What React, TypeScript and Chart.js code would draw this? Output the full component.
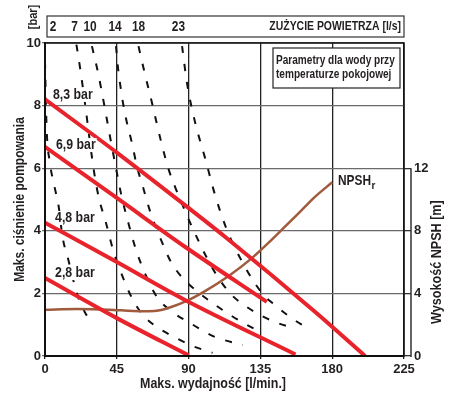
import React, { useEffect, useRef } from 'react';
import { Chart, registerables } from 'chart.js';

Chart.register(...registerables);

const FONT = "'Liberation Sans Narrow', 'Arial Narrow', 'Liberation Sans', Arial, sans-serif";
const INK = '#231f20';

// Axes
const xTicks = [0, 45, 90, 135, 180, 225];
const yTicks = [0, 2, 4, 6, 8, 10];
const npshTicks = [0, 4, 8, 12];

// Air consumption scale (top strip)
const airLabels = ['2', '7', '10', '14', '18', '23'];
const airLabelX = [5.1, 18.5, 28.2, 43.9, 58.6, 83.6];

// Pressure lines [bar] vs flow [l/min]
const p83X = [0, 45, 87.7, 112.8, 169, 200.6];
const p83Y = [8.2, 6.5, 4.82, 3.81, 1.42, 0];
const p69X = [0, 45, 87.7, 139];
const p69Y = [6.68, 5.05, 3.49, 1.73];
const p48X = [0, 45, 87.7, 157];
const p48Y = [4.26, 3.0, 1.79, 0.05];
const p28X = [0, 45, 90];
const p28Y = [2.49, 1.21, 0.02];
const pressLabels = ['8,3 bar', '6,9 bar', '4,8 bar', '2,8 bar'];
const pressLabelX = [5.0, 6.9, 6.3, 6.3];
const pressLabelY = [8.34, 6.74, 4.41, 2.65];

// Air consumption curves [l/s]
const air2X = [0, 1, 3, 6, 8.5, 11, 14.5, 20, 25, 29.5];
const air2Y = [9.4, 7.3, 6.2, 5.4, 4.8, 3.8, 3.1, 2.0, 1.4, 1.05];
const air7X = [19.7, 22, 25, 28, 31, 34, 38, 42.6, 47, 54.5, 61.4, 70, 82, 91, 105];
const air7Y = [9.95, 9.2, 8.1, 6.9, 5.8, 5.0, 4.3, 3.4, 2.75, 1.85, 1.31, 0.93, 0.58, 0.35, 0.1];
const air10X = [29.4, 32.6, 35, 39, 41.5, 44.5, 48, 52, 57, 63, 70, 80, 91, 106, 124];
const air10Y = [9.9, 9.2, 8.6, 7.5, 6.8, 6.0, 5.1, 4.3, 3.4, 2.6, 1.9, 1.4, 1.05, 0.62, 0.35];
const air14X = [44.5, 45.7, 47, 48.9, 51.4, 54.5, 57.7, 61.4, 66, 72, 79, 87, 97, 107, 117, 126.6, 136.6];
const air14Y = [9.9, 9.23, 8.72, 8.08, 7.44, 6.8, 6.04, 5.4, 4.6, 3.8, 3.0, 2.45, 2.0, 1.62, 1.28, 0.99, 0.73];
const air18X = [58.6, 61, 64, 67, 70, 73, 77, 81.5, 86, 91, 96, 101.5, 108, 117, 127, 137, 146, 155];
const air18Y = [9.9, 9.36, 8.72, 8.1, 7.44, 6.8, 6.04, 5.4, 4.85, 4.25, 3.7, 3.13, 2.55, 1.95, 1.55, 1.25, 1.05, 0.9];
const air23X = [85.9, 89, 94, 100.3, 106.6, 114, 124, 136, 144, 154.6, 164];
const air23Y = [9.9, 8.72, 7.48, 6.33, 5.14, 4.03, 2.97, 2.01, 1.63, 1.21, 0.9];

// NPSHr [m]
const npshX = [0, 20, 40, 55, 65, 72, 80, 88.8, 100.3, 114.9, 129.5, 142, 150.4, 163, 169, 180];
const npshY = [2.95, 3.0, 2.96, 2.88, 2.86, 2.92, 3.16, 3.52, 4.15, 5.1, 6.24, 7.42, 8.26, 9.54, 10.15, 11.1];

const pts = (xs: number[], ys: number[]) => xs.map((x, i) => ({ x, y: ys[i] }));

const RED = '#e8232b';
const BROWN = '#a05a3c';

const redSet = (xs: number[], ys: number[]) => ({
  data: pts(xs, ys), borderColor: RED, borderWidth: 4, pointRadius: 0,
  tension: 0.4, cubicInterpolationMode: 'monotone', order: 1, yAxisID: 'y',
});
const dashSet = (xs: number[], ys: number[]) => ({
  data: pts(xs, ys), borderColor: '#111', borderWidth: 2, pointRadius: 0,
  borderDash: [7, 11], tension: 0.4, cubicInterpolationMode: 'monotone', order: 3, yAxisID: 'y',
});

const font = (size: number) => `bold ${size}px ${FONT}`;

// narrow text (emulates a condensed face)
function nText(ctx: any, text: string, x: number, y: number, align: string, size: number, sx = 0.83, rot = 0) {
  ctx.save();
  ctx.translate(x, y);
  if (rot) ctx.rotate(rot);
  ctx.scale(sx, 1);
  ctx.textAlign = align;
  ctx.textBaseline = 'middle';
  ctx.font = font(size);
  ctx.fillText(text, 0, 0);
  const w = ctx.measureText(text).width * sx;
  ctx.restore();
  return w;
}

const decor = {
  id: 'decor',
  afterDraw(chart: any) {
    const { ctx, chartArea: ca, scales } = chart;
    const xs = scales.x, ys = scales.y, y2 = scales.y2;
    ctx.save();
    // plot frame
    ctx.strokeStyle = '#111';
    ctx.lineWidth = 1.5;
    ctx.strokeRect(ca.left, ca.top, ca.right - ca.left, ca.bottom - ca.top);
    ctx.lineWidth = 2;
    ctx.beginPath();
    ctx.moveTo(ca.left, ca.top); ctx.lineTo(ca.left, ca.bottom); ctx.lineTo(ca.right, ca.bottom);
    ctx.stroke();

    // top strip
    ctx.fillStyle = '#fff';
    ctx.lineWidth = 1.2;
    ctx.strokeStyle = '#333';
    ctx.fillRect(ca.left + 2, ca.top - 27, ca.right - ca.left - 2, 21);
    ctx.strokeRect(ca.left + 2, ca.top - 27, ca.right - ca.left - 2, 21);
    ctx.fillStyle = INK;
    airLabels.forEach((l, i) => nText(ctx, l, xs.getPixelForValue(airLabelX[i]), ca.top - 16, 'center', 14, 0.85));
    nText(ctx, 'ZUŻYCIE POWIETRZA [l/s]', ca.right - 3, ca.top - 16, 'right', 12, 0.87);

    // [bar]
    nText(ctx, '[bar]', 33, ca.top - 26, 'center', 13, 0.85, -Math.PI / 2);

    // axis titles
    nText(ctx, 'Maks. ciśnienie pompowania', 20, (ca.top + ca.bottom) / 2, 'center', 15, 0.8, -Math.PI / 2);
    nText(ctx, 'Maks. wydajność [l/min.]', ca.left + 168, ca.bottom + 28, 'center', 15, 0.83);

    const r0 = y2.getPixelForValue(0), r12 = y2.getPixelForValue(12);
    nText(ctx, 'Wysokość NPSH [m]', 437, (r0 + r12) / 2, 'center', 15, 0.84, -Math.PI / 2);

    // right axis line
    ctx.strokeStyle = '#333';
    ctx.lineWidth = 1.5;
    ctx.beginPath();
    ctx.moveTo(ca.right + 7, r0 + 1);
    ctx.lineTo(ca.right + 7, r12);
    ctx.stroke();

    // info box
    const bx = ca.right - 131, by = ca.top + 5, bw = 127, bh = 40;
    ctx.fillStyle = '#fff';
    ctx.fillRect(bx, by, bw, bh);
    ctx.strokeStyle = '#222';
    ctx.lineWidth = 1.2;
    ctx.strokeRect(bx, by, bw, bh);
    ctx.fillStyle = INK;
    nText(ctx, 'Parametry dla wody przy', bx + 3, by + 13, 'left', 12, 0.84);
    nText(ctx, 'temperaturze pokojowej', bx + 3, by + 27, 'left', 12, 0.84);

    // pressure labels
    pressLabels.forEach((l, i) => {
      const px = xs.getPixelForValue(pressLabelX[i]);
      const py = ys.getPixelForValue(pressLabelY[i]);
      ctx.font = font(14);
      const w = ctx.measureText(l).width * 0.88;
      ctx.fillStyle = '#fff';
      ctx.fillRect(px - 1, py - 7, w + 2, 14);
      ctx.fillStyle = INK;
      nText(ctx, l, px, py, 'left', 14, 0.88);
    });

    // NPSHr label
    const nx = xs.getPixelForValue(183.6), ny = ys.getPixelForValue(5.59);
    const nw = nText(ctx, 'NPSH', nx, ny, 'left', 14, 0.85);
    nText(ctx, 'r', nx + nw + 0.5, ny + 5, 'left', 11, 0.9);
    ctx.restore();
  },
};

export default function App() {
  const ref = useRef<HTMLCanvasElement | null>(null);
  useEffect(() => {
    if (!ref.current) return;
    const tickFont = { family: FONT, size: 13, weight: 'bold' as const };
    const chart = new Chart(ref.current, {
      type: 'line',
      data: {
        datasets: [
          redSet(p83X, p83Y),
          redSet(p69X, p69Y),
          redSet(p48X, p48Y),
          redSet(p28X, p28Y),
          {
            data: pts(npshX, npshY), borderColor: BROWN, borderWidth: 2.5, pointRadius: 0,
            tension: 0.4, cubicInterpolationMode: 'monotone', order: 2, yAxisID: 'y2',
          },
          dashSet(air2X, air2Y),
          dashSet(air7X, air7Y),
          dashSet(air10X, air10Y),
          dashSet(air14X, air14Y),
          dashSet(air18X, air18Y),
          dashSet(air23X, air23Y),
        ] as any,
      },
      options: {
        responsive: false,
        animation: false,
        devicePixelRatio: 1,
        layout: { padding: { top: 43, left: 0, right: 0, bottom: 0 } },
        plugins: { legend: { display: false }, tooltip: { enabled: false } },
        scales: {
          x: {
            type: 'linear', min: 0, max: 225,
            afterBuildTicks: (s: any) => { s.ticks = xTicks.map((v) => ({ value: v })); },
            afterFit: (s: any) => { s.height = 41; },
            grid: { color: '#222', lineWidth: 1.3, tickLength: 3 },
            border: { color: '#111', width: 2 },
            ticks: { font: tickFont, color: INK, padding: 3, maxRotation: 0 },
          },
          y: {
            type: 'linear', position: 'left', min: 0, max: 10,
            afterBuildTicks: (s: any) => { s.ticks = yTicks.map((v) => ({ value: v })); },
            afterFit: (s: any) => { s.width = 45; },
            grid: { color: '#6a6a6a', lineWidth: 1.3, tickLength: 3 },
            border: { color: '#111', width: 2 },
            ticks: { font: tickFont, color: INK, padding: 1 },
          },
          y2: {
            type: 'linear', position: 'right', min: 0, max: 20,
            afterBuildTicks: (s: any) => { s.ticks = npshTicks.map((v) => ({ value: v })); },
            afterFit: (s: any) => { s.width = 51; },
            grid: { drawOnChartArea: false, drawTicks: true, tickLength: 7, color: '#333', lineWidth: 1.3 },
            border: { display: false },
            ticks: { font: tickFont, color: INK, padding: 3 },
          },
        },
      } as any,
      plugins: [decor],
    });
    return () => chart.destroy();
  }, []);
  return (
    <div style={{ position: 'absolute', left: 0, top: 0, width: 455, height: 397, background: '#fff' }}>
      <canvas ref={ref} width={455} height={397} style={{ display: 'block' }} />
    </div>
  );
}
